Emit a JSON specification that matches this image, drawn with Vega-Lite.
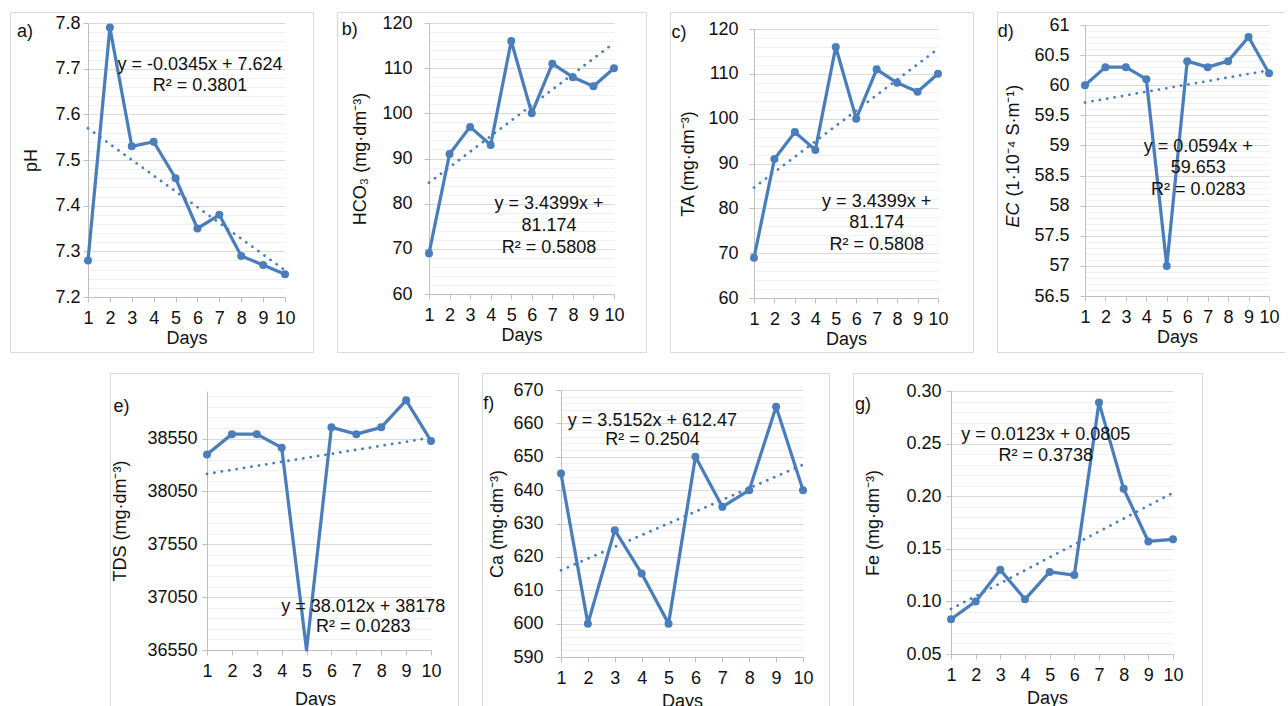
{
  "$schema": "https://vega.github.io/schema/vega-lite/v6.json",
  "padding": {"left": 9, "top": 11, "right": 0, "bottom": 0},
  "spacing": 19,
  "data": {"values": [
    {"day": 1, "pH": 7.28, "HCO3": 69, "TA": 69, "EC": 60.0, "TDS": 38400, "Ca": 645, "Fe": 0.083},
    {"day": 2, "pH": 7.79, "HCO3": 91, "TA": 91, "EC": 60.3, "TDS": 38592, "Ca": 600, "Fe": 0.100},
    {"day": 3, "pH": 7.53, "HCO3": 97, "TA": 97, "EC": 60.3, "TDS": 38592, "Ca": 628, "Fe": 0.130},
    {"day": 4, "pH": 7.54, "HCO3": 93, "TA": 93, "EC": 60.1, "TDS": 38464, "Ca": 615, "Fe": 0.102},
    {"day": 5, "pH": 7.46, "HCO3": 116, "TA": 116, "EC": 57.0, "TDS": 36480, "Ca": 600, "Fe": 0.128},
    {"day": 6, "pH": 7.35, "HCO3": 100, "TA": 100, "EC": 60.4, "TDS": 38656, "Ca": 650, "Fe": 0.125},
    {"day": 7, "pH": 7.38, "HCO3": 111, "TA": 111, "EC": 60.3, "TDS": 38592, "Ca": 635, "Fe": 0.289},
    {"day": 8, "pH": 7.29, "HCO3": 108, "TA": 108, "EC": 60.4, "TDS": 38656, "Ca": 640, "Fe": 0.207},
    {"day": 9, "pH": 7.27, "HCO3": 106, "TA": 106, "EC": 60.8, "TDS": 38912, "Ca": 665, "Fe": 0.157},
    {"day": 10, "pH": 7.25, "HCO3": 110, "TA": 110, "EC": 60.2, "TDS": 38528, "Ca": 640, "Fe": 0.159}
  ]},
  "vconcat": [
    {
      "bounds": "flush",
      "spacing": 24,
      "hconcat": [
        {
          "width": 303, "height": 340,
          "encoding": {
            "x": {"field": "day", "type": "quantitative", "title": "Days",
              "scale": {"domain": [1, 10], "range": [78, 275], "nice": false, "zero": false},
              "axis": {"offset": -55, "values": [1,2,3,4,5,6,7,8,9,10], "format": "d"}},
            "y": {"field": "pH", "type": "quantitative", "title": "pH",
              "scale": {"domain": [7.2, 7.8], "range": [285, 11], "nice": false, "zero": false},
              "axis": {"offset": -78, "labelPadding": 3, "titlePadding": 14,
                "values": [7.2,7.22,7.24,7.26,7.28,7.3,7.32,7.34,7.36,7.38,7.4,7.42,7.44,7.46,7.48,7.5,7.52,7.54,7.56,7.58,7.6,7.62,7.64,7.66,7.68,7.7,7.72,7.74,7.76,7.78,7.8],
                "labelExpr": "round(datum.value*50) % 5 === 0 ? format(datum.value, '.1f') : ''",
                "gridColor": {"condition": {"test": "round(datum.value*50) % 5 === 0", "value": "#d9d9d9"}, "value": "#f0f0f0"},
                "tickOpacity": {"condition": {"test": "round(datum.value*50) % 5 === 0", "value": 1}, "value": 0}}}
          },
          "layer": [
            {"transform": [{"regression": "pH", "on": "day"}], "mark": {"type": "line", "color": "#4a7ebb", "strokeWidth": 2.75, "strokeDash": [0.1, 7.4], "strokeCap": "round"}},
            {"mark": {"type": "line", "color": "#4a7ebb", "strokeWidth": 3.25, "strokeJoin": "round"}},
            {"mark": {"type": "circle", "color": "#4a7ebb", "size": 64, "opacity": 1}},
            {"transform": [{"filter": {"field": "day", "equal": 1}}], "mark": {"type": "text", "align": "center", "baseline": "middle", "lineHeight": 21},
              "encoding": {"x": {"datum": 6.12, "type": "quantitative"}, "y": {"datum": 7.708, "type": "quantitative"}, "text": {"value": ["y = -0.0345x + 7.624", "R² = 0.3801"]}}},
            {"transform": [{"filter": {"field": "day", "equal": 1}}], "mark": {"type": "text", "align": "left", "baseline": "middle"},
              "encoding": {"x": {"datum": -2.24, "type": "quantitative"}, "y": {"datum": 7.781, "type": "quantitative"}, "text": {"value": "a)"}}}
          ]
        },
        {
          "width": 309, "height": 340,
          "encoding": {
            "x": {"field": "day", "type": "quantitative", "title": "Days",
              "scale": {"domain": [1, 10], "range": [92, 277], "nice": false, "zero": false},
              "axis": {"offset": -58, "values": [1,2,3,4,5,6,7,8,9,10], "format": "d"}},
            "y": {"field": "HCO3", "type": "quantitative", "title": "HCO₃ (mg·dm⁻³)",
              "scale": {"domain": [60, 120], "range": [282, 11], "nice": false, "zero": false},
              "axis": {"offset": -92, "labelPadding": 12, "titlePadding": 12,
                "values": [60,62,64,66,68,70,72,74,76,78,80,82,84,86,88,90,92,94,96,98,100,102,104,106,108,110,112,114,116,118,120],
                "labelExpr": "round(datum.value) % 10 === 0 ? format(datum.value, 'd') : ''",
                "gridColor": {"condition": {"test": "round(datum.value) % 10 === 0", "value": "#d9d9d9"}, "value": "#f0f0f0"},
                "tickOpacity": {"condition": {"test": "round(datum.value) % 10 === 0", "value": 1}, "value": 0}}}
          },
          "layer": [
            {"transform": [{"regression": "HCO3", "on": "day"}], "mark": {"type": "line", "color": "#4a7ebb", "strokeWidth": 2.75, "strokeDash": [0.1, 7.4], "strokeCap": "round"}},
            {"mark": {"type": "line", "color": "#4a7ebb", "strokeWidth": 3.25, "strokeJoin": "round"}},
            {"mark": {"type": "circle", "color": "#4a7ebb", "size": 64, "opacity": 1}},
            {"transform": [{"filter": {"field": "day", "equal": 1}}], "mark": {"type": "text", "align": "center", "baseline": "middle", "lineHeight": 22},
              "encoding": {"x": {"datum": 6.84, "type": "quantitative"}, "y": {"datum": 80.0, "type": "quantitative"}, "text": {"value": ["y = 3.4399x +", "81.174", "R² = 0.5808"]}}},
            {"transform": [{"filter": {"field": "day", "equal": 1}}], "mark": {"type": "text", "align": "left", "baseline": "middle"},
              "encoding": {"x": {"datum": -3.25, "type": "quantitative"}, "y": {"datum": 118.5, "type": "quantitative"}, "text": {"value": "b)"}}}
          ]
        },
        {
          "width": 303, "height": 340,
          "encoding": {
            "x": {"field": "day", "type": "quantitative", "title": "Days",
              "scale": {"domain": [1, 10], "range": [84, 268], "nice": false, "zero": false},
              "axis": {"offset": -54, "values": [1,2,3,4,5,6,7,8,9,10], "format": "d"}},
            "y": {"field": "TA", "type": "quantitative", "title": "TA (mg·dm⁻³)",
              "scale": {"domain": [60, 120], "range": [286, 17], "nice": false, "zero": false},
              "axis": {"offset": -84, "labelPadding": 11, "titlePadding": 10,
                "values": [60,62,64,66,68,70,72,74,76,78,80,82,84,86,88,90,92,94,96,98,100,102,104,106,108,110,112,114,116,118,120],
                "labelExpr": "round(datum.value) % 10 === 0 ? format(datum.value, 'd') : ''",
                "gridColor": {"condition": {"test": "round(datum.value) % 10 === 0", "value": "#d9d9d9"}, "value": "#f0f0f0"},
                "tickOpacity": {"condition": {"test": "round(datum.value) % 10 === 0", "value": 1}, "value": 0}}}
          },
          "layer": [
            {"transform": [{"regression": "TA", "on": "day"}], "mark": {"type": "line", "color": "#4a7ebb", "strokeWidth": 2.75, "strokeDash": [0.1, 7.4], "strokeCap": "round"}},
            {"mark": {"type": "line", "color": "#4a7ebb", "strokeWidth": 3.25, "strokeJoin": "round"}},
            {"mark": {"type": "circle", "color": "#4a7ebb", "size": 64, "opacity": 1}},
            {"transform": [{"filter": {"field": "day", "equal": 1}}], "mark": {"type": "text", "align": "center", "baseline": "middle", "lineHeight": 21.5},
              "encoding": {"x": {"datum": 7.0, "type": "quantitative"}, "y": {"datum": 81.46, "type": "quantitative"}, "text": {"value": ["y = 3.4399x +", "81.174", "R² = 0.5808"]}}},
            {"transform": [{"filter": {"field": "day", "equal": 1}}], "mark": {"type": "text", "align": "left", "baseline": "middle"},
              "encoding": {"x": {"datum": -3.03, "type": "quantitative"}, "y": {"datum": 119.1, "type": "quantitative"}, "text": {"value": "c)"}}}
          ]
        },
        {
          "width": 288, "height": 340,
          "view": {"stroke": "#d9d9d9", "strokeDash": [288, 340, 640]},
          "encoding": {
            "x": {"field": "day", "type": "quantitative", "title": "Days",
              "scale": {"domain": [1, 10], "range": [88, 272], "nice": false, "zero": false},
              "axis": {"offset": -56, "values": [1,2,3,4,5,6,7,8,9,10], "format": "d"}},
            "y": {"field": "EC", "type": "quantitative", "title": "(1·10⁻⁴ S·m⁻¹)",
              "scale": {"domain": [56.5, 61], "range": [284, 13], "nice": false, "zero": false},
              "axis": {"offset": -88, "labelPadding": 11, "titlePadding": 11, "titleY": 128,
                "values": [56.5,56.6,56.7,56.8,56.9,57,57.1,57.2,57.3,57.4,57.5,57.6,57.7,57.8,57.9,58,58.1,58.2,58.3,58.4,58.5,58.6,58.7,58.8,58.9,59,59.1,59.2,59.3,59.4,59.5,59.6,59.7,59.8,59.9,60,60.1,60.2,60.3,60.4,60.5,60.6,60.7,60.8,60.9,61],
                "labelExpr": "round(datum.value*10) % 5 === 0 ? format(datum.value, '~g') : ''",
                "gridColor": {"condition": {"test": "round(datum.value*10) % 5 === 0", "value": "#d9d9d9"}, "value": "#f0f0f0"},
                "tickOpacity": {"condition": {"test": "round(datum.value*10) % 5 === 0", "value": 1}, "value": 0}}}
          },
          "layer": [
            {"transform": [{"regression": "EC", "on": "day"}], "mark": {"type": "line", "color": "#4a7ebb", "strokeWidth": 2.75, "strokeDash": [0.1, 7.4], "strokeCap": "round"}},
            {"mark": {"type": "line", "color": "#4a7ebb", "strokeWidth": 3.25, "strokeJoin": "round"}},
            {"mark": {"type": "circle", "color": "#4a7ebb", "size": 64, "opacity": 1}},
            {"transform": [{"filter": {"field": "day", "equal": 1}}], "mark": {"type": "text", "align": "center", "baseline": "middle", "lineHeight": 21.5},
              "encoding": {"x": {"datum": 6.54, "type": "quantitative"}, "y": {"datum": 58.98, "type": "quantitative"}, "text": {"value": ["y = 0.0594x +", "59.653", "R² = 0.0283"]}}},
            {"transform": [{"filter": {"field": "day", "equal": 1}}], "mark": {"type": "text", "align": "left", "baseline": "middle"},
              "encoding": {"x": {"datum": -3.27, "type": "quantitative"}, "y": {"datum": 60.89, "type": "quantitative"}, "text": {"value": "d)"}}},
            {"transform": [{"filter": {"field": "day", "equal": 1}}], "mark": {"type": "text", "align": "center", "baseline": "bottom", "angle": 270, "fontStyle": "italic"},
              "encoding": {"x": {"datum": -2.03, "type": "quantitative"}, "y": {"datum": 57.845, "type": "quantitative"}, "text": {"value": "EC"}}}
          ]
        }
      ]
    },
    {
      "bounds": "flush",
      "spacing": 24,
      "hconcat": [
        {
          "width": 76, "height": 333,
          "view": {"stroke": null},
          "transform": [{"filter": {"field": "day", "equal": 1}}],
          "mark": {"type": "text"},
          "encoding": {"text": {"value": ""}}
        },
        {
          "width": 348, "height": 333,
          "view": {"stroke": "#d9d9d9", "strokeDash": [681, 348, 345]},
          "encoding": {
            "x": {"field": "day", "type": "quantitative", "title": "Days",
              "scale": {"domain": [1, 10], "range": [97, 321], "nice": false, "zero": false},
              "axis": {"offset": -56, "values": [1,2,3,4,5,6,7,8,9,10], "format": "d", "titlePadding": 10, "titleX": 205}},
            "y": {"field": "TDS", "type": "quantitative", "title": "TDS (mg·dm⁻³)",
              "scale": {"domain": [36550, 39000], "range": [277, 18], "nice": false, "zero": false, "clamp": true},
              "axis": {"offset": -97, "labelPadding": 5, "titlePadding": 17,
                "values": [36550,36650,36750,36850,36950,37050,37150,37250,37350,37450,37550,37650,37750,37850,37950,38050,38150,38250,38350,38450,38550,38650,38750,38850,38950],
                "labelExpr": "(round(datum.value) - 36550) % 500 === 0 ? format(datum.value, 'd') : ''",
                "gridColor": {"condition": {"test": "(round(datum.value) - 36550) % 500 === 0", "value": "#d9d9d9"}, "value": "#f0f0f0"},
                "tickOpacity": {"condition": {"test": "(round(datum.value) - 36550) % 500 === 0", "value": 1}, "value": 0}}}
          },
          "layer": [
            {"transform": [{"regression": "TDS", "on": "day"}], "mark": {"type": "line", "color": "#4a7ebb", "strokeWidth": 2.75, "strokeDash": [0.1, 7.4], "strokeCap": "round"}},
            {"mark": {"type": "line", "color": "#4a7ebb", "strokeWidth": 3.25, "strokeJoin": "round"}},
            {"transform": [{"filter": {"field": "TDS", "gte": 36550}}], "mark": {"type": "circle", "color": "#4a7ebb", "size": 64, "opacity": 1}},
            {"transform": [{"filter": {"field": "day", "equal": 1}}], "mark": {"type": "text", "align": "center", "baseline": "middle", "lineHeight": 20},
              "encoding": {"x": {"datum": 7.28, "type": "quantitative"}, "y": {"datum": 36956, "type": "quantitative"}, "text": {"value": ["y = 38.012x + 38178", "R² = 0.0283"]}}},
            {"transform": [{"filter": {"field": "day", "equal": 1}}], "mark": {"type": "text", "align": "left", "baseline": "middle"},
              "encoding": {"x": {"datum": -2.76, "type": "quantitative"}, "y": {"datum": 38849, "type": "quantitative"}, "text": {"value": "e)"}}}
          ]
        },
        {
          "width": 347, "height": 333,
          "view": {"stroke": "#d9d9d9", "strokeDash": [680, 347, 345]},
          "encoding": {
            "x": {"field": "day", "type": "quantitative", "title": "Days",
              "scale": {"domain": [1, 10], "range": [79, 321], "nice": false, "zero": false},
              "axis": {"offset": -49, "values": [1,2,3,4,5,6,7,8,9,10], "format": "d", "titlePadding": 5}},
            "y": {"field": "Ca", "type": "quantitative", "title": "Ca (mg·dm⁻³)",
              "scale": {"domain": [590, 670], "range": [284, 17], "nice": false, "zero": false},
              "axis": {"offset": -79, "labelPadding": 13, "titlePadding": 6,
                "values": [590,592,594,596,598,600,602,604,606,608,610,612,614,616,618,620,622,624,626,628,630,632,634,636,638,640,642,644,646,648,650,652,654,656,658,660,662,664,666,668,670],
                "labelExpr": "round(datum.value) % 10 === 0 ? format(datum.value, 'd') : ''",
                "gridColor": {"condition": {"test": "round(datum.value) % 10 === 0", "value": "#d9d9d9"}, "value": "#f0f0f0"},
                "tickOpacity": {"condition": {"test": "round(datum.value) % 10 === 0", "value": 1}, "value": 0}}}
          },
          "layer": [
            {"transform": [{"regression": "Ca", "on": "day"}], "mark": {"type": "line", "color": "#4a7ebb", "strokeWidth": 2.75, "strokeDash": [0.1, 7.4], "strokeCap": "round"}},
            {"mark": {"type": "line", "color": "#4a7ebb", "strokeWidth": 3.25, "strokeJoin": "round"}},
            {"mark": {"type": "circle", "color": "#4a7ebb", "size": 64, "opacity": 1}},
            {"transform": [{"filter": {"field": "day", "equal": 1}}], "mark": {"type": "text", "align": "center", "baseline": "middle", "lineHeight": 19.5},
              "encoding": {"x": {"datum": 4.4, "type": "quantitative"}, "y": {"datum": 660.8, "type": "quantitative"}, "text": {"value": ["y = 3.5152x + 612.47", "R² = 0.2504"]}}},
            {"transform": [{"filter": {"field": "day", "equal": 1}}], "mark": {"type": "text", "align": "left", "baseline": "middle"},
              "encoding": {"x": {"datum": -1.89, "type": "quantitative"}, "y": {"datum": 665.8, "type": "quantitative"}, "text": {"value": "f)"}}}
          ]
        },
        {
          "width": 349, "height": 333,
          "view": {"stroke": "#d9d9d9", "strokeDash": [682, 349, 345]},
          "encoding": {
            "x": {"field": "day", "type": "quantitative", "title": "Days",
              "scale": {"domain": [1, 10], "range": [98, 320], "nice": false, "zero": false},
              "axis": {"offset": -52, "values": [1,2,3,4,5,6,7,8,9,10], "format": "d", "titlePadding": 5, "titleX": 194}},
            "y": {"field": "Fe", "type": "quantitative", "title": "Fe (mg·dm⁻³)",
              "scale": {"domain": [0.05, 0.3], "range": [281, 18], "nice": false, "zero": false},
              "axis": {"offset": -98, "labelPadding": 5, "titlePadding": 23,
                "values": [0.05,0.06,0.07,0.08,0.09,0.1,0.11,0.12,0.13,0.14,0.15,0.16,0.17,0.18,0.19,0.2,0.21,0.22,0.23,0.24,0.25,0.26,0.27,0.28,0.29,0.3],
                "labelExpr": "round(datum.value*100) % 5 === 0 ? format(datum.value, '.2f') : ''",
                "gridColor": {"condition": {"test": "round(datum.value*100) % 5 === 0", "value": "#d9d9d9"}, "value": "#f0f0f0"},
                "tickOpacity": {"condition": {"test": "round(datum.value*100) % 5 === 0", "value": 1}, "value": 0}}}
          },
          "layer": [
            {"transform": [{"regression": "Fe", "on": "day"}], "mark": {"type": "line", "color": "#4a7ebb", "strokeWidth": 2.75, "strokeDash": [0.1, 7.4], "strokeCap": "round"}},
            {"mark": {"type": "line", "color": "#4a7ebb", "strokeWidth": 3.25, "strokeJoin": "round"}},
            {"mark": {"type": "circle", "color": "#4a7ebb", "size": 64, "opacity": 1}},
            {"transform": [{"filter": {"field": "day", "equal": 1}}], "mark": {"type": "text", "align": "center", "baseline": "middle", "lineHeight": 21},
              "encoding": {"x": {"datum": 4.84, "type": "quantitative"}, "y": {"datum": 0.2582, "type": "quantitative"}, "text": {"value": ["y = 0.0123x + 0.0805", "R² = 0.3738"]}}},
            {"transform": [{"filter": {"field": "day", "equal": 1}}], "mark": {"type": "text", "align": "left", "baseline": "middle"},
              "encoding": {"x": {"datum": -2.89, "type": "quantitative"}, "y": {"datum": 0.287, "type": "quantitative"}, "text": {"value": "g)"}}}
          ]
        }
      ]
    }
  ],
  "config": {
    "font": "Liberation Sans",
    "view": {"stroke": "#d9d9d9", "strokeWidth": 1},
    "axis": {
      "labelFont": "Liberation Sans", "labelFontSize": 18, "labelColor": "#111111",
      "titleFont": "Liberation Sans", "titleFontSize": 18, "titleFontWeight": "normal", "titleColor": "#111111",
      "domainColor": "#bfbfbf", "tickColor": "#bfbfbf", "tickSize": 5,
      "labelOverlap": false, "labelBound": false, "labelFlush": false
    },
    "axisX": {"grid": false, "labelPadding": 7, "titlePadding": 2},
    "axisY": {"grid": true},
    "text": {"font": "Liberation Sans", "fontSize": 18, "color": "#111111"}
  }
}
